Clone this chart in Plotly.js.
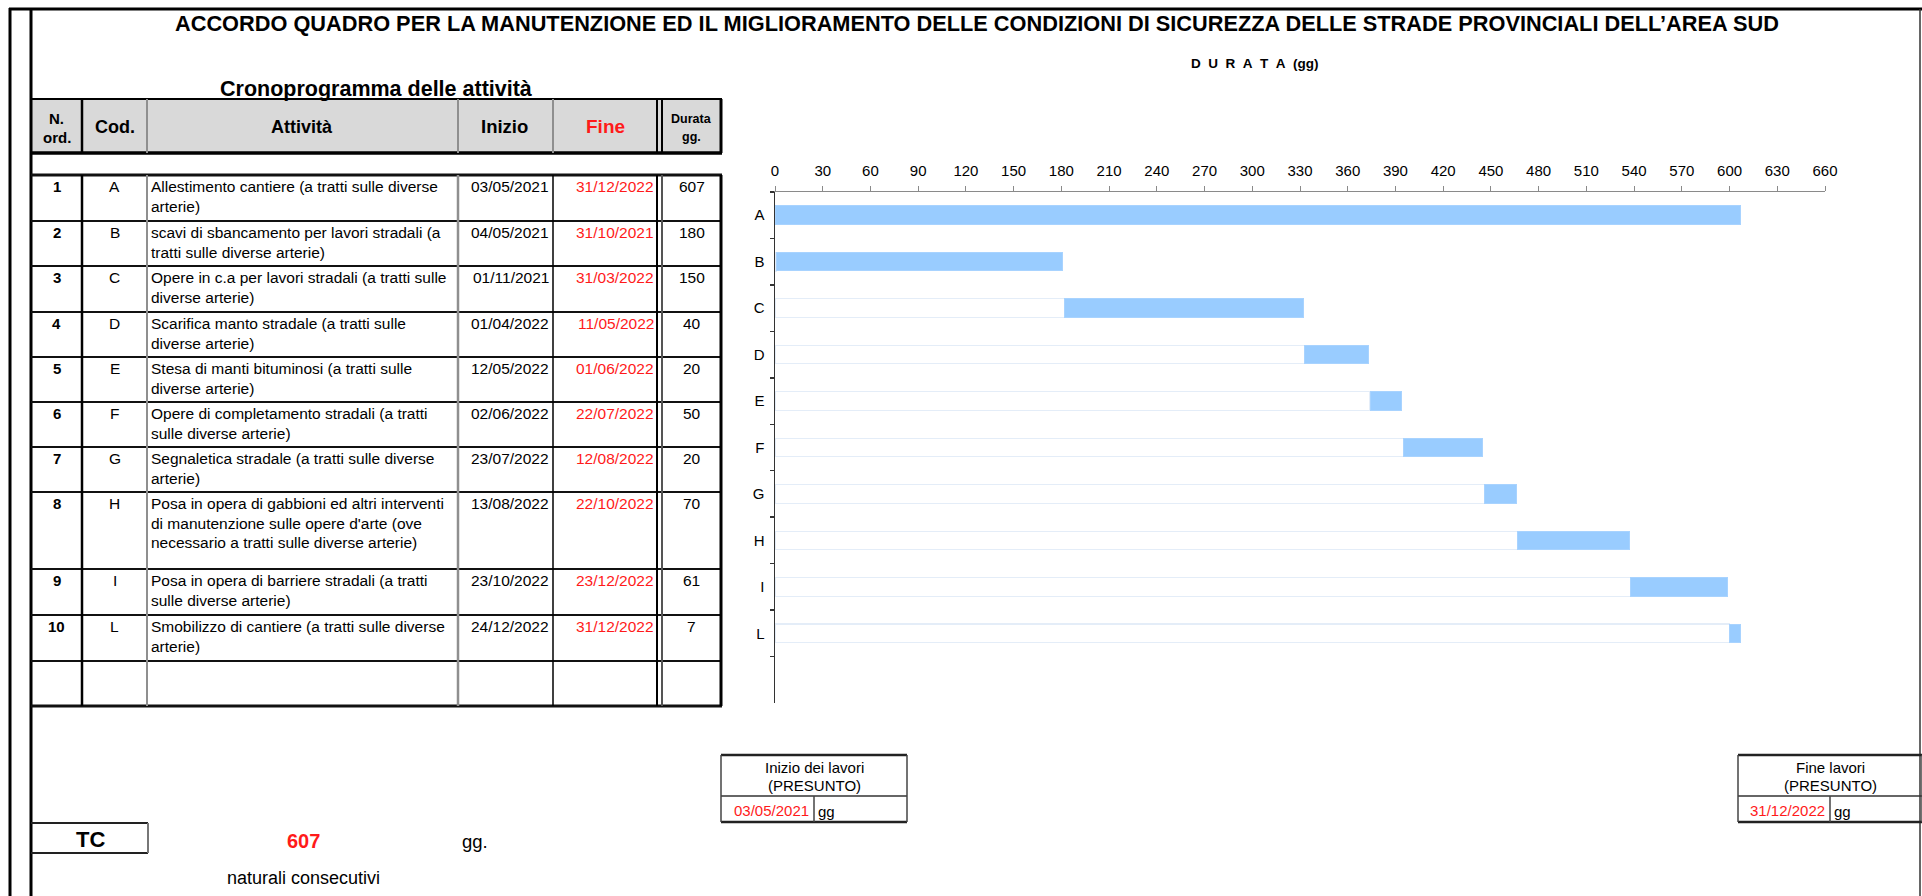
<!DOCTYPE html>
<html>
<head>
<meta charset="utf-8">
<script src="https://cdn.plot.ly/plotly-3.0.1.min.js"></script>
<style>
html,body{margin:0;padding:0;background:#ffffff;}
#chart{width:1922px;height:896px;}
</style>
</head>
<body>
<div id="chart"></div>
<script>
// ---------------- DATA ----------------
const nOrd = ['1','2','3','4','5','6','7','8','9','10'];
const codes = ['A','B','C','D','E','F','G','H','I','L'];
const activities = [
  'Allestimento cantiere (a tratti sulle diverse\narterie)',
  'scavi di sbancamento per lavori stradali (a\ntratti sulle diverse arterie)',
  'Opere in c.a per lavori stradali (a tratti sulle\ndiverse arterie)',
  'Scarifica manto stradale (a tratti sulle\ndiverse arterie)',
  'Stesa di manti bituminosi (a tratti sulle\ndiverse arterie)',
  'Opere di completamento stradali (a tratti\nsulle diverse arterie)',
  'Segnaletica stradale (a tratti sulle diverse\narterie)',
  'Posa in opera di gabbioni ed altri interventi\ndi manutenzione sulle opere d\'arte (ove\nnecessario a tratti sulle diverse arterie)',
  'Posa in opera di barriere stradali (a tratti\nsulle diverse arterie)',
  'Smobilizzo di cantiere (a tratti sulle diverse\narterie)'
];
const startDates = ['03/05/2021','04/05/2021','01/11/2021','01/04/2022','12/05/2022','02/06/2022','23/07/2022','13/08/2022','23/10/2022','24/12/2022'];
const endDates   = ['31/12/2022','31/10/2021','31/03/2022','11/05/2022','01/06/2022','22/07/2022','12/08/2022','22/10/2022','23/12/2022','31/12/2022'];
const durations    = [607,180,150,40,20,50,20,70,61,7];
const startOffsets = [0,1,182,333,374,395,446,467,538,600];
const axisMax = 660;
const axisStep = 30;
const totalDays = '607';
const projectStart = '03/05/2021';
const projectEnd = '31/12/2022';
const titleText = 'ACCORDO QUADRO PER LA MANUTENZIONE ED IL MIGLIORAMENTO DELLE CONDIZIONI DI SICUREZZA DELLE STRADE PROVINCIALI DELL\u2019AREA SUD';
const tableTitle = 'Cronoprogramma delle attività';

// ---------------- LAYOUT HELPERS ----------------
const W = 1922, H = 896;
const FONT = 'Liberation Sans, Arial, sans-serif';
const X = v => v / W;
const Y = v => 1 - v / H;
const shapes = [];
const ann = [];
function ln(x0, y0, x1, y1, color, width) {
  shapes.push({type:'line', xref:'paper', yref:'paper', x0:X(x0), y0:Y(y0), x1:X(x1), y1:Y(y1),
    line:{color:color, width:width}, layer:'above'});
}
function rect(x0, y0, x1, y1, fill) {
  shapes.push({type:'rect', xref:'paper', yref:'paper', x0:X(x0), y0:Y(y0), x1:X(x1), y1:Y(y1),
    fillcolor:fill, line:{width:0}, layer:'below'});
}
function txt(x, y, s, size, opts) {
  opts = opts || {};
  ann.push({xref:'paper', yref:'paper', x:X(x), y:Y(y), text:s, showarrow:false,
    xanchor:opts.anchor || 'center', yanchor:'middle', borderpad:0,
    font:{family:FONT, size:size, color:opts.color || '#000000', weight: opts.bold ? 'bold' : 'normal'}});
}
const B = '#000000', G = '#8f8f8f', RED = '#ff1a1a';

// ---------------- FRAME ----------------
ln(10, 8, 10, 896, B, 3);
ln(31, 9, 31, 896, B, 3);
ln(9, 9, 1922, 9, B, 3);
ln(1920, 9, 1920, 896, '#333333', 1.5);

// ---------------- TITLES ----------------
txt(977, 23, '<b>' + titleText + '</b>', 21.75);
txt(376, 89, '<b>' + tableTitle + '</b>', 21.5);
txt(1255, 64, '<b>D\u00a0\u00a0U\u00a0\u00a0R\u00a0\u00a0A\u00a0\u00a0T\u00a0\u00a0A\u00a0\u00a0(gg)</b>', 13.5);

// ---------------- TABLE ----------------
const HT = 99, HB = 153;
rect(31, HT, 721, HB, '#d9d9d9');
ln(31, HT, 722, HT, B, 2);
ln(31, HB, 722, HB, B, 3.5);
// header verticals
ln(82, HT, 82, HB, B, 2.5);
ln(147, HT, 147, HB, G, 2);
ln(458, HT, 458, HB, G, 2);
ln(553, HT, 553, HB, G, 2);
ln(657, HT, 657, HB, B, 2);
ln(662, HT, 662, HB, B, 2);
ln(721, HT, 721, HB, B, 3);
// header text
txt(56.5, 118, '<b>N.</b>', 15);
txt(56.5, 137, '<b>ord.</b>', 15);
txt(114.5, 127, '<b>Cod.</b>', 18);
txt(302, 127, '<b>Attività</b>', 18);
txt(505, 127, '<b>Inizio</b>', 18.5);
txt(605, 127, '<b>Fine</b>', 19, {color:RED});
txt(691.5, 119, '<b>Durata</b>', 12.5);
txt(691.5, 137, '<b>gg.</b>', 12.5);

// body
const ROW_EDGES = [175, 221, 266, 312, 357, 402, 447, 492, 569, 615, 661, 706];
const BT = ROW_EDGES[0], BB = ROW_EDGES[ROW_EDGES.length - 1];
ROW_EDGES.forEach((y, i) => {
  const w = (i === 0 || i === ROW_EDGES.length - 1) ? 3 : 2.2;
  ln(31, y, 722, y, '#111111', w);
});
ln(82, BT, 82, BB, B, 2.5);
ln(147, BT, 147, BB, G, 2);
ln(458, BT, 458, BB, G, 2.5);
ln(553, BT, 553, BB, B, 1.5);
ln(657, BT, 657, BB, B, 2);
ln(662, BT, 662, BB, '#555555', 2);
ln(721, BT, 721, BB, B, 3);

const BODY = 15.5, LINE = 19.7, FIRST = 11.5;
for (let i = 0; i < codes.length; i++) {
  const top = ROW_EDGES[i];
  const y1 = top + FIRST;
  txt(56.5, y1, '<b>' + nOrd[i] + '</b>', 15);
  txt(114.5, y1, codes[i], BODY);
  activities[i].split('\n').forEach((l, k) => {
    txt(150, y1 + k * LINE, l, BODY, {anchor:'left'});
  });
  txt(550, y1, startDates[i], BODY, {anchor:'right'});
  txt(655, y1, endDates[i], BODY, {anchor:'right', color:RED});
  txt(691.5, y1, String(durations[i]), BODY);
}

// ---------------- BOTTOM BOXES ----------------
// TC
ln(31, 823, 148, 823, '#222222', 2);
ln(31, 853, 148, 853, '#222222', 2);
ln(148, 823, 148, 853, '#777777', 2);
txt(90, 839, '<b>TC</b>', 22);
txt(303, 841, '<b>' + totalDays + '</b>', 20, {color:RED});
txt(475, 841, 'gg.', 18.5);
txt(303, 878, 'naturali consecutivi', 18);

function dateBox(x0, x1, xdiv, label, dateStr) {
  const cx = (x0 + x1) / 2;
  ln(x0, 755, x1, 755, '#222222', 2.5);
  ln(x0, 822, x1, 822, '#222222', 2.5);
  ln(x0, 796, x1, 796, '#333333', 1.5);
  ln(x0, 755, x0, 822, '#444444', 1.5);
  ln(x1, 755, x1, 822, '#444444', 1.5);
  ln(xdiv, 796, xdiv, 822, '#444444', 1.5);
  txt(cx, 767, label, 15);
  txt(cx, 785, '(PRESUNTO)', 15);
  txt(xdiv - 4, 810, dateStr, 15, {anchor:'right', color:RED});
  txt(xdiv + 3, 811, 'gg', 15, {anchor:'left'});
}
dateBox(721, 907, 814, 'Inizio dei lavori', projectStart);
dateBox(1738, 1922, 1830, 'Fine lavori', projectEnd);

// ---------------- GANTT CHART ----------------
const cats = codes.concat(['\u00a0']);
const traces = [
  {type:'bar', orientation:'h', y:codes, x:startOffsets,
   marker:{color:'rgba(255,255,255,0)', line:{color:'#e4edf8', width:1.2}},
   hoverinfo:'skip', showlegend:false},
  {type:'bar', orientation:'h', y:codes, x:durations,
   marker:{color:'#99ccff', line:{color:'#a8d3ff', width:1}},
   hoverinfo:'skip', showlegend:false}
];

const layout = {
  width: W, height: H,
  margin:{l:0, r:0, t:0, b:0},
  paper_bgcolor:'#ffffff', plot_bgcolor:'rgba(0,0,0,0)',
  barmode:'stack', bargap:0.6,
  showlegend:false,
  font:{family:FONT, color:'#000000'},
  xaxis:{
    domain:[X(775), X(1825)], anchor:'y', side:'top',
    range:[0, axisMax], tick0:0, dtick:axisStep,
    showgrid:false, zeroline:false,
    showline:true, linecolor:'#8a8a8a', linewidth:1.5,
    ticks:'outside', ticklen:5, tickcolor:'#8a8a8a', tickwidth:1,
    ticklabelstandoff:4,
    tickfont:{family:FONT, size:15, color:'#000000'}, fixedrange:true
  },
  yaxis:{
    domain:[Y(703), Y(192)], anchor:'x',
    type:'category', categoryarray:cats, categoryorder:'array',
    range:[cats.length - 0.5, -0.5],
    tickson:'boundaries', ticks:'outside', ticklen:4, tickcolor:'#333333', tickwidth:1.5,
    showgrid:false, zeroline:false,
    showline:true, linecolor:'#333333', linewidth:1.5,
    ticklabelstandoff:6,
    tickfont:{family:FONT, size:15, color:'#000000'}, fixedrange:true
  },
  shapes: shapes,
  annotations: ann
};

Plotly.newPlot('chart', traces, layout, {staticPlot:true, displayModeBar:false});
</script>
</body>
</html>
